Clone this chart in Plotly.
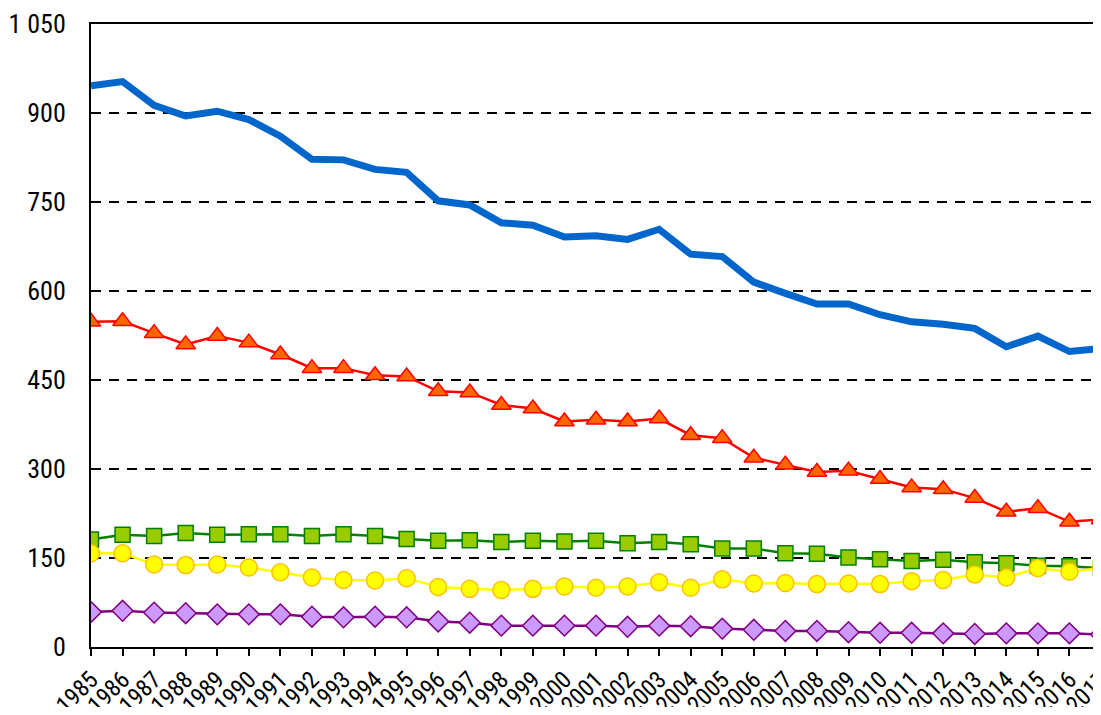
import plotly.graph_objects as go

years = list(range(1985, 2018))

blue = [946, 953, 913, 895, 903, 889, 861, 822, 821, 805, 800, 752, 745,
        715, 711, 691, 693, 687, 704, 662, 658, 615, 596, 578, 578,
        560, 548, 544, 537, 506, 524, 498, 503]
red = [548, 549, 529, 510, 524, 513, 493, 470, 470, 458, 456, 431, 429,
       408, 402, 380, 383, 380, 385, 357, 352, 319, 307, 295, 297,
       283, 269, 266, 251, 228, 234, 211, 215]
green = [181, 189, 187, 192, 189, 190, 190, 187, 190, 187, 182, 179, 180,
         177, 179, 178, 179, 175, 177, 173, 166, 166, 158, 157, 151,
         148, 145, 147, 143, 141, 137, 136, 133]
yellow = [158, 158, 139, 138, 139, 134, 126, 117, 113, 112, 116, 101, 98,
          96, 98, 102, 100, 102, 109, 100, 114, 107, 108, 106, 107,
          106, 111, 113, 122, 117, 133, 127, 133]
purple = [59, 61, 58, 57, 55, 55, 55, 51, 50, 51, 50, 43, 41,
          36, 36, 36, 36, 34, 36, 35, 31, 29, 27, 27, 25,
          24, 24, 23, 22, 23, 23, 23, 21]

y_ticks = [0, 150, 300, 450, 600, 750, 900, 1050]
y_labels = ["0", "150", "300", "450", "600", "750", "900", "1 050"]

fig = go.Figure()
fig.add_trace(go.Scatter(x=years, y=blue, mode="lines",
                         line=dict(color="#0066CC", width=7)))
fig.add_trace(go.Scatter(x=years, y=red, mode="lines+markers",
                         line=dict(color="#FF0000", width=2.5),
                         marker=dict(symbol="triangle-up", size=17, color="#FF6600",
                                     line=dict(color="#FF0000", width=1.5))))
fig.add_trace(go.Scatter(x=years, y=green, mode="lines+markers",
                         line=dict(color="#008000", width=2.5),
                         marker=dict(symbol="square", size=15, color="#99CC00",
                                     line=dict(color="#008000", width=1.5))))
fig.add_trace(go.Scatter(x=years, y=yellow, mode="lines+markers",
                         line=dict(color="#FFFF00", width=2.5),
                         marker=dict(symbol="circle", size=17, color="#FFFF00",
                                     line=dict(color="#FFC000", width=1.5))))
fig.add_trace(go.Scatter(x=years, y=purple, mode="lines+markers",
                         line=dict(color="#800080", width=2.5),
                         marker=dict(symbol="diamond", size=16, color="#CC99FF",
                                     line=dict(color="#800080", width=1.5))))

font_family = "Roboto Condensed, Liberation Sans, sans-serif"

fig.update_layout(
    width=1093, height=699,
    margin=dict(l=83, r=0, t=16, b=60),
    paper_bgcolor="white", plot_bgcolor="white",
    showlegend=False,
    font=dict(family=font_family, size=26, color="#000000"),
)
fig.update_xaxes(
    range=[1985, 2017], tickmode="array", tickvals=years,
    ticktext=[str(y) for y in years], tickangle=-45,
    showline=True, linecolor="black", linewidth=2, mirror=True,
    ticks="outside", ticklen=7, tickwidth=2, tickcolor="black",
    showgrid=False, zeroline=False, automargin=False,
    ticklabeloverflow="allow",
    tickfont=dict(family=font_family, size=24, color="black"),
)
fig.update_yaxes(
    range=[0, 1050], tickmode="array", tickvals=y_ticks, ticktext=y_labels,
    showline=True, linecolor="black", linewidth=2,
    ticks="", showgrid=True, gridcolor="black", gridwidth=2,
    griddash="10px,8px", zeroline=False, ticklabelstandoff=18, automargin=False,
    ticklabeloverflow="allow",
    tickfont=dict(family=font_family, size=26, color="black"),
)

fig.write_html("out.html")
